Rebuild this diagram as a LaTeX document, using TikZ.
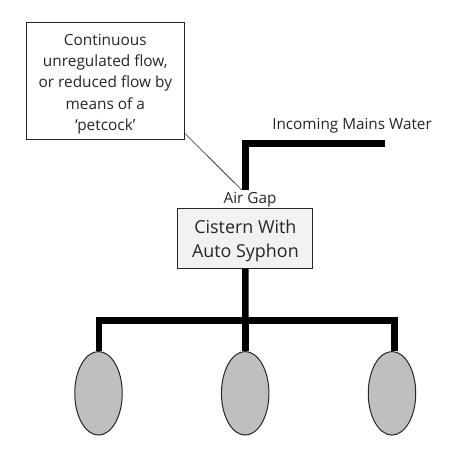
\documentclass[tikz,border=0pt]{standalone}
\usetikzlibrary{shapes.geometric}
\usepackage{fontspec}
\setmainfont{Open Sans}
\definecolor{boxfill}{HTML}{F2F2F2}
\definecolor{ovalfill}{HTML}{BFBFBF}
\definecolor{inkgrey}{HTML}{262626}
\newcommand{\topstrut}[1]{\rule{0pt}{#1}}
\begin{document}
\begin{tikzpicture}[x=1pt,y=-1pt,
  pipe/.style={line width=6.5pt,line cap=butt,line join=miter,draw=black},
  tank/.style={draw=inkgrey,line width=1pt,fill=boxfill,minimum width=135pt,minimum height=60pt,inner sep=0pt,align=center,text=inkgrey,font=\fontsize{17.9}{24.7}\selectfont},
  note/.style={draw=inkgrey,line width=1pt,fill=white,minimum width=158pt,minimum height=117pt,inner sep=0pt,align=center,text=inkgrey,font=\fontsize{15.4}{21.2}\selectfont},
  oval/.style={ellipse,draw=inkgrey,line width=1pt,fill=ovalfill,minimum width=47.5pt,minimum height=83.5pt,inner sep=0pt},
  lbl/.style={inner sep=0pt,text=inkgrey,font=\fontsize{15.3}{18}\selectfont},
  leader/.style={draw=inkgrey,line width=0.6pt}]
\useasboundingbox (0,0) rectangle (474,474);
\node[tank] (cistern) at (245.4,238) {\topstrut{19pt}Cistern With\\Auto Syphon};
\coordinate (inlet) at (385,143.5);
\coordinate (corner) at (245.5,143.5);
\coordinate (gap) at (245.5,190);
\coordinate (junction) at (245.5,320.7);
\coordinate (left) at (99,320.7);
\coordinate (right) at (394.5,320.7);
\draw[pipe] (inlet) -- (corner) -- (gap);
\node[oval] (o1) at (98.5,393.3) {};
\node[oval] (o2) at (245.2,393.3) {};
\node[oval] (o3) at (392,393.3) {};
\draw[pipe] (cistern.south) -- (junction);
\draw[pipe] (left|-o1.north) -- (left) -- (right) -- (right|-o3.north);
\draw[pipe] (junction) -- (junction|-o2.north);
\node[note] (note) at (105.3,80.7) {\topstrut{18pt}Continuous\\unregulated flow,\\or reduced flow by\\means of a\\‘petcock’};
\coordinate (noteTap) at (185,133.5);
\coordinate (gapTap) at (241.7,190);
\draw[leader] (noteTap) -- (gapTap);
\node[lbl] (air) at (250,199.5) {Air Gap};
\node[lbl] (mains) at (352,125.5) {Incoming Mains Water};
\end{tikzpicture}
\end{document}
